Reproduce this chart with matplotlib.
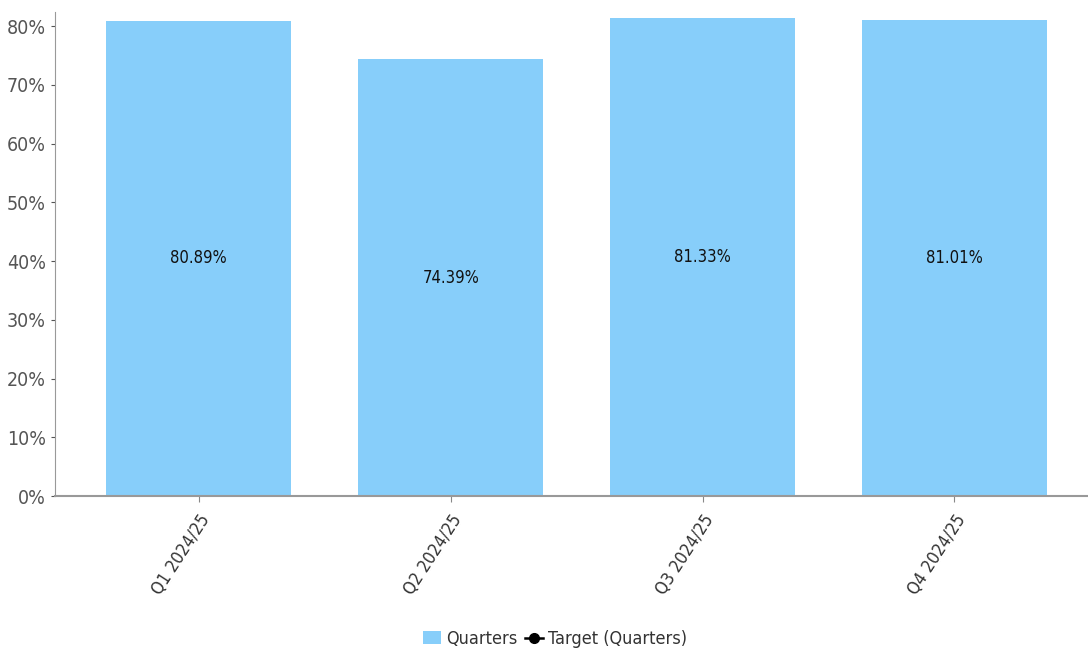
import matplotlib.pyplot as plt
from matplotlib.ticker import FuncFormatter

quarters = ['Q1 2024/25', 'Q2 2024/25', 'Q3 2024/25', 'Q4 2024/25']
values = [80.89, 74.39, 81.33, 81.01]
target = []  # no target values recorded

plt.rcParams['font.family'] = ['DejaVu Sans']
plt.rcParams['font.stretch'] = 'condensed'

fig = plt.figure(figsize=(10.88, 6.59), dpi=100)
ax = fig.add_axes([55 / 1088, 1 - 496 / 659, 1 - 55 / 1088, (496 - 12) / 659])

x = range(len(quarters))
bars = ax.bar(x, values, width=0.734, color='#87cefa', label='Quarters', zorder=2)
tline, = ax.plot(target, target, color='black', marker='o', markersize=7, lw=1.8,
                 label='Target (Quarters)')

for b, v in zip(bars, values):
    ax.text(b.get_x() + b.get_width() / 2, v / 2, f'{v:.2f}%',
            ha='center', va='center', fontsize=12, color='#111111')

ax.set_xlim(-0.571, 3.53)
ax.set_ylim(0, 82.4)
ax.set_yticks(range(0, 81, 10))
ax.yaxis.set_major_formatter(FuncFormatter(lambda v, p: f'{v:.0f}%'))
ax.set_xticks(list(x))
ax.set_xticklabels(quarters, rotation=57, ha='right', rotation_mode='anchor',
                   fontsize=12.5, color='#333333')
ax.tick_params(axis='y', labelsize=14, colors='#555555', length=3)
ax.tick_params(axis='x', length=4, color='#888888', pad=7)

for s in ['top', 'right']:
    ax.spines[s].set_visible(False)
ax.spines['left'].set_color('#999999')
ax.spines['bottom'].set_color('#999999')
ax.spines['bottom'].set_linewidth(1.5)

fig.legend([bars, tline], ['Quarters', 'Target (Quarters)'],
           loc='lower center', bbox_to_anchor=(0.51, -0.008), ncol=2, frameon=False,
           fontsize=13, handlelength=1.0, handletextpad=0.3, columnspacing=0.4,
           labelcolor='#333333')

fig.savefig('out.png', dpi=100)
